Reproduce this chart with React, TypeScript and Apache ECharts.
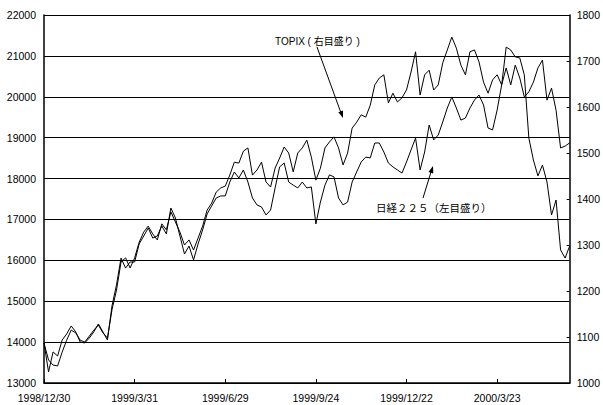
import React, { useEffect, useRef } from "react";
import * as echarts from "echarts";

const xTickLabels = ["1998/12/30", "1999/3/31", "1999/6/29", "1999/9/24", "1999/12/22", "2000/3/23"];
const tickStep = 20;

const nikkei = [
  13980, 13270, 13760, 13660, 14050, 14200, 14395, 14250, 14000, 13980,
  14100, 14250, 14445, 14250, 14050, 14885, 15400, 16055, 15810, 15960,
  15960, 16400, 16595, 16790, 16545, 16595, 16840, 16645, 17280, 17035,
  16595, 16155, 16350, 16010, 16400, 16740, 17135, 17330, 17525, 17575,
  17575, 17915, 18160, 18015, 18210, 17915, 17525, 17355, 17305, 17110,
  17230, 17770, 18285, 18380, 17915, 17840, 17770, 17915, 17770, 17795,
  16890, 17425, 17840, 18090, 18040, 17525, 17355, 17425, 17915, 18160,
  18405, 18525, 18505, 18870, 18870, 18650, 18380, 18285, 18210, 18135,
  18405, 18700, 18990, 18210, 18650, 19310, 18945, 19065, 19385, 19725,
  19995, 19725, 19430, 19480, 19725, 19920, 20045, 19800, 19235, 19190,
  19675, 20290, 21215, 21145, 20975, 20950, 20535, 18990, 18455, 18065,
  18330, 17915, 17110, 17475, 16255, 16055, 16350,
];

const topix = [
  1087, 1050, 1039, 1037, 1067, 1093, 1115, 1109, 1093, 1089,
  1102, 1115, 1126, 1109, 1098, 1159, 1202, 1263, 1272, 1250,
  1272, 1306, 1328, 1341, 1324, 1311, 1346, 1333, 1372, 1350,
  1328, 1300, 1311, 1289, 1315, 1341, 1376, 1391, 1415, 1424,
  1428, 1452, 1480, 1478, 1504, 1511, 1452, 1463, 1480, 1437,
  1426, 1467, 1489, 1513, 1500, 1459, 1500, 1511, 1528, 1491,
  1441, 1467, 1511, 1524, 1535, 1511, 1474, 1500, 1554, 1567,
  1583, 1578, 1604, 1648, 1663, 1670, 1609, 1630, 1611, 1620,
  1637, 1676, 1720, 1626, 1670, 1680, 1637, 1648, 1696, 1724,
  1752, 1728, 1691, 1670, 1720, 1724, 1698, 1654, 1630, 1659,
  1670, 1648, 1685, 1648, 1691, 1663, 1622, 1633, 1654, 1685,
  1702, 1615, 1641, 1593, 1511, 1515, 1522,
];

const FONT = '"Liberation Sans", Arial, "Noto Sans CJK JP", sans-serif';

export default function App() {
  const ref = useRef<HTMLDivElement>(null);

  useEffect(() => {
    if (!ref.current) return;
    const chart = echarts.init(ref.current, null, { renderer: "svg" });
    const lastIndex = nikkei.length - 1;
    const plain = (v: number) => String(v);
    chart.setOption({
      animation: false,
      backgroundColor: "#fff",
      grid: { left: 44, right: 30, top: 15, bottom: 22, containLabel: false },
      xAxis: {
        type: "value",
        min: 0,
        max: lastIndex,
        interval: tickStep,
        axisLine: { show: true, lineStyle: { color: "#000", width: 1.5 } },
        axisTick: { show: true, inside: true, length: 4, lineStyle: { color: "#000" } },
        splitLine: { show: false },
        axisLabel: {
          color: "#000",
          fontFamily: FONT,
          fontSize: 10.5,
          margin: 10,
          showMaxLabel: false,
          formatter: (v: number) => {
            const k = v / tickStep;
            return Number.isInteger(k) && xTickLabels[k] ? xTickLabels[k] : "";
          },
        },
      },
      yAxis: [
        {
          type: "value",
          min: 13000,
          max: 22000,
          interval: 1000,
          position: "left",
          axisLine: { show: true, lineStyle: { color: "#000", width: 1.5 } },
          axisTick: { show: false },
          splitLine: { show: true, lineStyle: { color: "#000", width: 1 } },
          axisLabel: { color: "#000", fontFamily: FONT, fontSize: 10.5, margin: 8, formatter: plain },
        },
        {
          type: "value",
          min: 1000,
          max: 1800,
          interval: 100,
          position: "right",
          axisLine: { show: true, lineStyle: { color: "#000", width: 1.5 } },
          axisTick: { show: true, inside: true, length: 3, lineStyle: { color: "#000" } },
          splitLine: { show: false },
          axisLabel: { color: "#000", fontFamily: FONT, fontSize: 10.5, margin: 7, formatter: plain },
        },
      ],
      series: [
        {
          name: "日経225",
          type: "line",
          yAxisIndex: 0,
          data: nikkei.map((v, i) => [i, v]),
          showSymbol: false,
          symbol: "none",
          lineStyle: { color: "#000", width: 1 },
        },
        {
          name: "TOPIX",
          type: "line",
          yAxisIndex: 1,
          data: topix.map((v, i) => [i, v]),
          showSymbol: false,
          symbol: "none",
          lineStyle: { color: "#000", width: 1 },
        },
      ],
      graphic: [
        {
          type: "text",
          x: 275,
          y: 41,
          style: {
            text: "TOPIX ( 右目盛り )",
            fontFamily: FONT,
            fontSize: 10,
            fill: "#000",
            verticalAlign: "middle",
          },
        },
        {
          type: "line",
          shape: { x1: 317, y1: 47, x2: 341, y2: 113 },
          style: { stroke: "#000", lineWidth: 1 },
        },
        {
          type: "polygon",
          shape: { points: [[343, 118], [338.3, 112.3], [343, 110.6]] },
          style: { fill: "#000" },
        },
        {
          type: "text",
          x: 376,
          y: 208,
          style: {
            text: "日経２２５（左目盛り）",
            fontFamily: FONT,
            fontSize: 10.5,
            fill: "#000",
            verticalAlign: "middle",
          },
        },
        {
          type: "line",
          shape: { x1: 423, y1: 198, x2: 431, y2: 172 },
          style: { stroke: "#000", lineWidth: 1 },
        },
        {
          type: "polygon",
          shape: { points: [[433, 166], [433.3, 173.4], [428.5, 171.9]] },
          style: { fill: "#000" },
        },
      ],
    });
    return () => chart.dispose();
  }, []);

  return (
    <div
      ref={ref}
      style={{ position: "absolute", left: 0, top: 0, width: 603, height: 405, background: "#fff" }}
    />
  );
}
